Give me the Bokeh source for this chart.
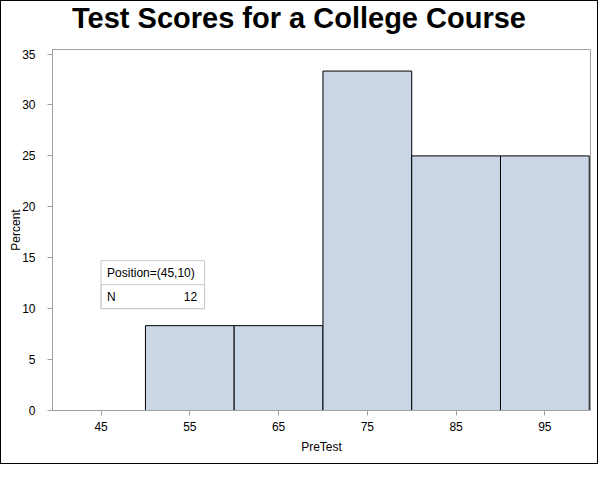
from bokeh.plotting import figure
from bokeh.models import (ColumnDataSource, FixedTicker, Range1d, Label, BoxAnnotation, Div)
from bokeh.layouts import column
from bokeh.embed import file_html
from bokeh.resources import INLINE

# ---- data ----
bin_left = [50, 60, 70, 80, 90]
bin_right = [60, 70, 80, 90, 100]
percent = [8.333, 8.333, 33.333, 25.0, 25.0]
x_ticks = [45, 55, 65, 75, 85, 95]
y_ticks = [0, 5, 10, 15, 20, 25, 30, 35]
inset_pos = (45, 10)
inset_n = 12

title_text = "Test Scores for a College Course"
FONT = "Liberation Sans"

X0, X1 = 39.53, 100.14
Y0, Y1 = 0, 35.45
W = 596
TH = 36
H = 426
BL, BR, BT, BB = 51, 7, 12, 53
FW, FH = W - BL - BR, H - BT - BB

src = ColumnDataSource(dict(left=bin_left, right=bin_right, top=percent,
                            bottom=[0] * len(percent)))

title_div = Div(
    text=(f'<div style="font-family:\'{FONT}\';font-weight:bold;font-size:29px;'
          f'line-height:29px;text-align:center;width:{W}px;padding-top:3px;'
          f'color:black;white-space:nowrap">{title_text}</div>'),
    width=W, height=TH, margin=0)

p = figure(width=W, height=H, output_backend="svg", toolbar_location=None,
           x_range=Range1d(X0, X1), y_range=Range1d(Y0, Y1),
           min_border_left=BL, min_border_right=BR, min_border_top=BT,
           min_border_bottom=BB, title=None, margin=0)

p.quad(left="left", right="right", top="top", bottom="bottom", source=src,
       fill_color="#CAD5E5", line_color="black", line_width=1)

p.xgrid.visible = False
p.ygrid.visible = False
p.background_fill_color = "white"
p.border_fill_color = "white"
p.outline_line_color = "#A0A0A0"
p.outline_line_width = 1

for ax in (p.xaxis[0], p.yaxis[0]):
    ax.axis_line_color = "#A0A0A0"
    ax.major_tick_line_color = "#A0A0A0"
    ax.major_tick_out = 5
    ax.major_tick_in = 0
    ax.minor_tick_line_color = None
    ax.major_label_text_font = FONT
    ax.major_label_text_font_size = "12px"
    ax.major_label_text_color = "black"
    ax.axis_label_text_font = FONT
    ax.axis_label_text_font_size = "12px"
    ax.axis_label_text_font_style = "normal"
    ax.axis_label_text_color = "black"

p.xaxis[0].ticker = FixedTicker(ticks=x_ticks)
p.yaxis[0].ticker = FixedTicker(ticks=y_ticks)
p.xaxis[0].axis_label = "PreTest"
p.yaxis[0].axis_label = "Percent"
p.xaxis[0].major_label_standoff = 6
p.xaxis[0].axis_label_standoff = 6
p.yaxis[0].major_label_standoff = 12
p.yaxis[0].axis_label_standoff = -4

# inset box anchored at inset_pos (bottom-left)
px_x = FW / (X1 - X0)
px_y = FH / (Y1 - Y0)
bw, rh = 103.5, 24
bx0, by0 = inset_pos
p.add_layout(BoxAnnotation(left=bx0, right=bx0 + bw / px_x, bottom=by0, top=by0 + 2 * rh / px_y,
                           fill_color="white", fill_alpha=1, line_color="#C8C8C8", line_width=1,
                           line_alpha=1))
p.add_layout(BoxAnnotation(left=bx0, right=bx0 + bw / px_x, bottom=by0, top=by0 + rh / px_y,
                           fill_alpha=0, line_color="#C8C8C8", line_width=1, line_alpha=1))
p.add_layout(Label(x=bx0, y=by0, x_offset=6, y_offset=rh * 1.5,
                   text=f"Position=({inset_pos[0]},{inset_pos[1]})", text_font=FONT,
                   text_font_size="12px", text_baseline="middle", text_color="black"))
p.add_layout(Label(x=bx0, y=by0, x_offset=6, y_offset=rh * 0.5, text="N",
                   text_font=FONT, text_font_size="12px", text_baseline="middle",
                   text_color="black"))
p.add_layout(Label(x=bx0, y=by0, x_offset=96, y_offset=rh * 0.5, text=str(inset_n),
                   text_font=FONT, text_font_size="12px", text_baseline="middle",
                   text_align="right", text_color="black"))

layout = column(title_div, p, spacing=0,
                styles={"border": "1px solid black", "background-color": "white"})

open("out.html", "w").write(file_html(layout, INLINE))
